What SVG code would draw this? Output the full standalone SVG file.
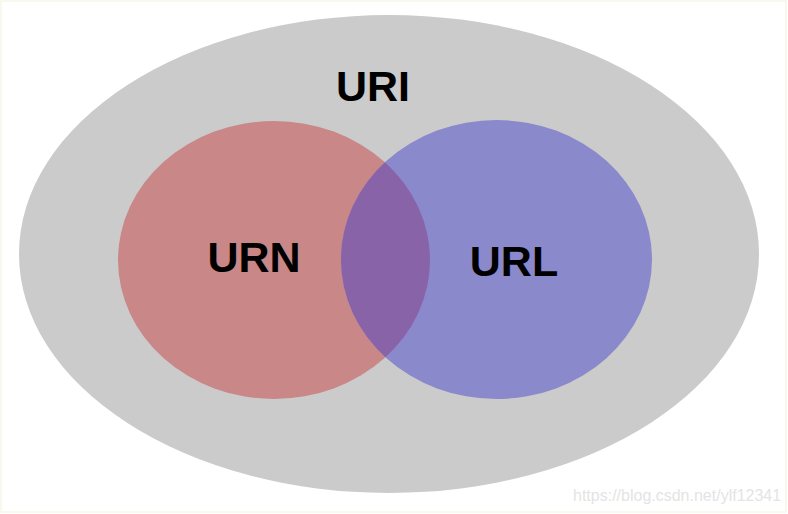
<svg xmlns="http://www.w3.org/2000/svg" width="788" height="514" viewBox="0 0 788 514">
  <style>
    .lbl { font-family: "Liberation Sans", Arial, sans-serif; font-weight: bold; font-size: 43px; fill: #000000; text-anchor: middle; }
    .wm { font-family: "Liberation Sans", Arial, sans-serif; font-size: 16px; fill: #e4e4e4; }
  </style>
  <defs>
    <clipPath id="clipUrn">
      <ellipse cx="274" cy="260" rx="156" ry="139"/>
    </clipPath>
  </defs>
  <rect x="0" y="0" width="788" height="514" fill="#ffffff"/>
  <rect x="1" y="1" width="785" height="511" fill="none" stroke="#f6f6e8" stroke-width="1.5"/>
  <g id="uri">
    <ellipse cx="389" cy="254" rx="370" ry="239" fill="#cbcbcb"/>
    <text class="lbl" x="373" y="101">URI</text>
  </g>
  <g id="urn">
    <ellipse cx="274" cy="260" rx="156" ry="139" fill="#c98787"/>
  </g>
  <g id="url">
    <ellipse cx="496.5" cy="259.5" rx="155.5" ry="139.5" fill="#8989cc"/>
    <ellipse cx="496.5" cy="259.5" rx="155.5" ry="139.5" fill="#8963a8" clip-path="url(#clipUrn)"/>
  </g>
  <text class="lbl" x="254" y="272">URN</text>
  <text class="lbl" x="514" y="276">URL</text>
  <g id="connectors"/>
  <text class="wm" x="573" y="501">https://blog.csdn.net/ylf12341</text>
</svg>
